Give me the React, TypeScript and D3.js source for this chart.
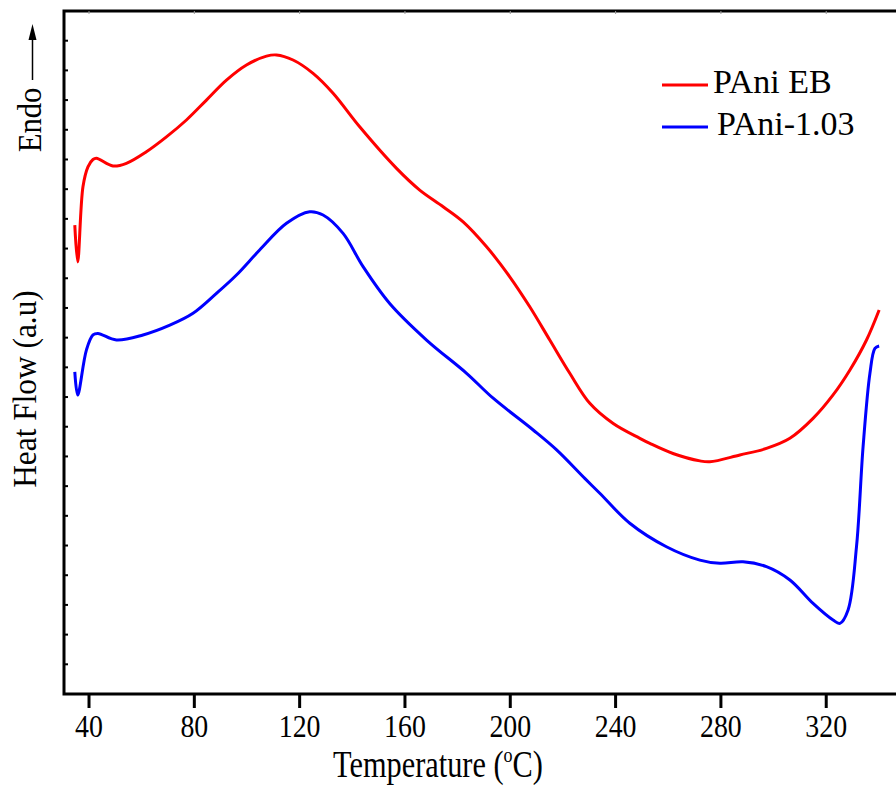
import React, { useEffect, useRef } from "react";
import * as d3 from "d3";

// temperature (°C) and heat flow (a.u.)
const ebTemp = [34.6, 35.7, 37.7, 39.6, 41.5, 42.8, 49.1, 54.2, 61.8, 69.4, 77.0, 84.6, 92.2, 99.8, 107.4, 111.2, 117.5, 125.1, 132.7, 142.8, 156.8, 165.6, 174.5, 182.1, 191.0, 199.8, 207.4, 215.0, 222.6, 230.2, 239.1, 249.2, 253.0, 261.8, 272.0, 275.8, 287.2, 297.3, 306.2, 315.0, 322.6, 329.0, 335.3, 340.1];
const ebFlow = [15.79, 14.55, 17.08, 17.75, 18.0, 18.04, 17.78, 17.87, 18.26, 18.76, 19.33, 20.0, 20.67, 21.18, 21.48, 21.52, 21.35, 20.9, 20.23, 19.1, 17.7, 16.97, 16.41, 15.9, 15.06, 14.05, 13.04, 11.92, 10.8, 9.79, 9.11, 8.61, 8.44, 8.1, 7.85, 7.82, 8.05, 8.27, 8.61, 9.28, 10.07, 10.91, 11.92, 12.93];

const dopedTemp = [34.6, 35.7, 39.0, 41.5, 43.4, 50.4, 60.5, 70.7, 79.5, 88.4, 96.0, 104.8, 115.0, 123.8, 128.9, 136.5, 144.1, 154.2, 168.2, 183.4, 193.5, 208.7, 217.6, 228.3, 234.0, 245.4, 259.3, 272.0, 279.6, 288.4, 297.3, 306.2, 315.0, 322.6, 325.2, 328.3, 331.5, 334.0, 336.6, 338.5, 340.1];
const dopedFlow = [10.85, 10.07, 11.58, 12.09, 12.14, 11.92, 12.09, 12.42, 12.82, 13.49, 14.11, 14.95, 15.85, 16.24, 16.13, 15.51, 14.39, 13.15, 11.92, 10.8, 9.96, 8.89, 8.22, 7.26, 6.76, 5.75, 4.96, 4.51, 4.4, 4.45, 4.29, 3.84, 3.05, 2.49, 2.38, 2.83, 4.96, 8.33, 10.8, 11.64, 11.72];

const seriesNames = ["PAni EB", "PAni-1.03"];
const seriesColors = ["#ff0000", "#0000ff"];
const xTicks = [40, 80, 120, 160, 200, 240, 280, 320];

const W = 896;
const H = 786;
const FONT = "'Liberation Serif', 'Times New Roman', serif";

export default function App() {
    const ref = useRef<SVGSVGElement>(null);

    useEffect(() => {
        const svg = d3.select(ref.current);
        svg.selectAll("*").remove();

        const left = 64, top = 11, bottom = 694;

        const x = d3.scaleLinear().domain([30.5, 346.5]).range([left, W]);
        const y = d3.scaleLinear().domain([0, 23]).range([bottom, top]);

        const series = [
            ebTemp.map((t, i) => [t, ebFlow[i]]),
            dopedTemp.map((t, i) => [t, dopedFlow[i]])
        ];

        const line = d3.line<number[]>()
            .x(d => x(d[0]))
            .y(d => y(d[1]))
            .curve(d3.curveCatmullRom.alpha(0.5));

        series.forEach((s, i) => {
            svg.append("path")
                .attr("d", line(s))
                .attr("fill", "none")
                .attr("stroke", seriesColors[i])
                .attr("stroke-width", 3)
                .attr("stroke-linejoin", "round");
        });

        // frame: right side runs past the picture edge
        const frame = svg.append("g").attr("stroke", "#000").attr("fill", "none");
        frame.append("path")
            .attr("d", `M${W + 4},${top}H${left}V${bottom}H${W + 4}`)
            .attr("stroke-width", 3);

        // left minor ticks, pointing inward
        frame.selectAll(".ytick")
            .data(d3.range(1, 23))
            .enter()
            .append("line")
            .attr("x1", left)
            .attr("x2", left + 4)
            .attr("y1", d => y(d))
            .attr("y2", d => y(d))
            .attr("stroke-width", 2);

        // bottom ticks, pointing outward
        frame.selectAll(".xtick")
            .data(xTicks)
            .enter()
            .append("line")
            .attr("x1", d => x(d))
            .attr("x2", d => x(d))
            .attr("y1", bottom)
            .attr("y2", bottom + 14)
            .attr("stroke-width", 3);

        // faint top ticks
        frame.selectAll(".ttick")
            .data(xTicks)
            .enter()
            .append("line")
            .attr("x1", d => x(d))
            .attr("x2", d => x(d))
            .attr("y1", top)
            .attr("y2", top + 3)
            .attr("stroke", "#999")
            .attr("stroke-width", 1);

        svg.selectAll(".xlabel")
            .data(xTicks)
            .enter()
            .append("text")
            .attr("transform", d => `translate(${x(d)},737) scale(0.87,1)`)
            .attr("text-anchor", "middle")
            .attr("font-family", FONT)
            .attr("font-size", 32)
            .text(d => d);

        const xTitle = svg.append("text")
            .attr("transform", "translate(438,777) scale(0.82,1)")
            .attr("text-anchor", "middle")
            .attr("font-family", FONT)
            .attr("font-size", 37);
        xTitle.append("tspan").text("Temperature (");
        xTitle.append("tspan").attr("font-size", 22).attr("dy", -15).text("o");
        xTitle.append("tspan").attr("dy", 15).text("C)");

        svg.append("text")
            .attr("transform", "translate(36,389) rotate(-90) scale(0.95,1)")
            .attr("text-anchor", "middle")
            .attr("font-family", FONT)
            .attr("font-size", 33)
            .text("Heat Flow (a.u)");

        svg.append("text")
            .attr("transform", "translate(41,120) rotate(-90) scale(0.9,1)")
            .attr("text-anchor", "middle")
            .attr("font-family", FONT)
            .attr("font-size", 34)
            .text("Endo");

        // Endo arrow
        svg.append("line")
            .attr("x1", 32.5).attr("x2", 32.5)
            .attr("y1", 80).attr("y2", 36)
            .attr("stroke", "#000")
            .attr("stroke-width", 1.5);
        svg.append("path")
            .attr("d", "M32.5,24L28.5,40L36.5,40Z")
            .attr("fill", "#000");

        // legend
        seriesNames.forEach((name, i) => {
            const ly = 85 + i * 42;
            svg.append("line")
                .attr("x1", 662).attr("x2", 708)
                .attr("y1", ly).attr("y2", ly)
                .attr("stroke", seriesColors[i])
                .attr("stroke-width", 3);
            svg.append("text")
                .attr("x", 713 + i * 4)
                .attr("y", ly + 8)
                .attr("font-family", FONT)
                .attr("font-size", 34)
                .text(name);
        });
    }, []);

    return (
        <svg ref={ref} width={W} height={H}
             style={{ display: "block", position: "absolute", left: 0, top: 0, background: "#fff" }}></svg>
    );
}
